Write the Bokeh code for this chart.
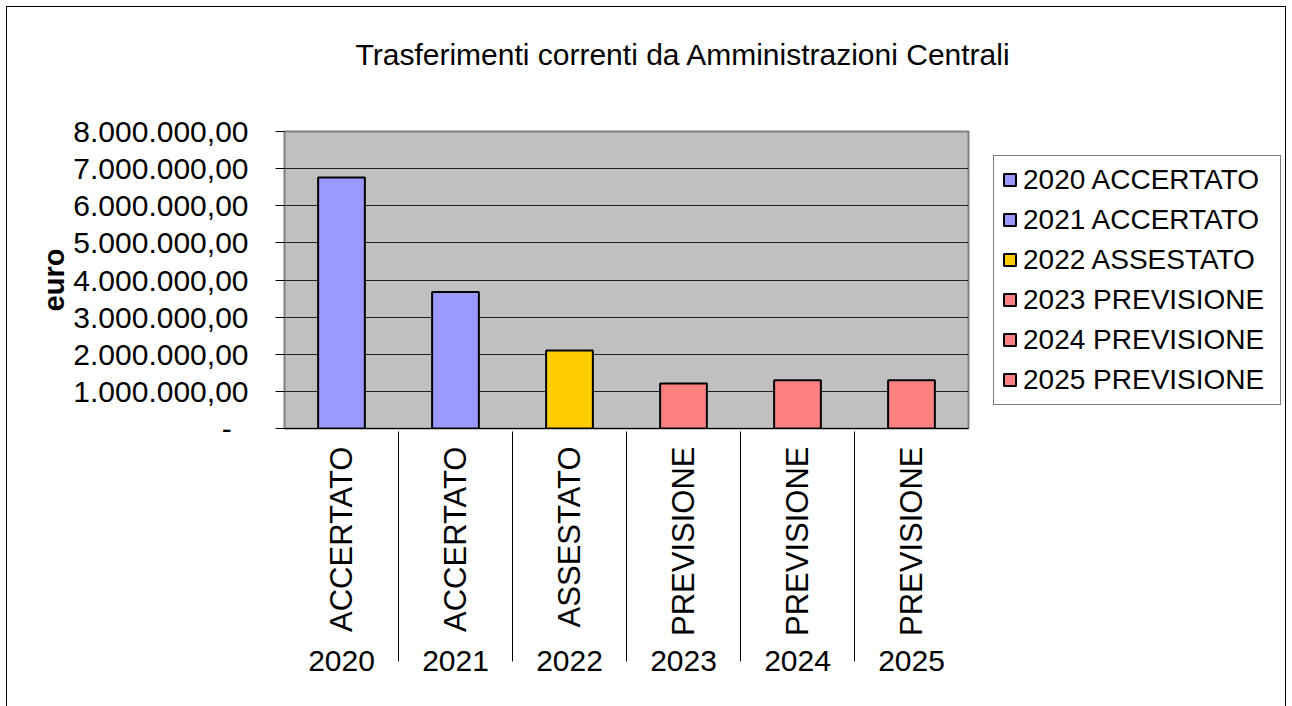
import math
from bokeh.plotting import figure
from bokeh.models import FactorRange, Range1d, FixedTicker, Legend, LegendItem, ColumnDataSource
from bokeh.embed import file_html
from bokeh.resources import INLINE

# ---- data ----
years = ["2020", "2021", "2022", "2023", "2024", "2025"]
stati = ["ACCERTATO", "ACCERTATO", "ASSESTATO", "PREVISIONE", "PREVISIONE", "PREVISIONE"]
valori = [6760000, 3680000, 2100000, 1210000, 1300000, 1300000]
colori = ["#9999FF", "#9999FF", "#FFCC00", "#FF8080", "#FF8080", "#FF8080"]
y_ticks = [0, 1000000, 2000000, 3000000, 4000000, 5000000, 6000000, 7000000, 8000000]
y_tick_labels = ["-\u00a0\u00a0", "1.000.000,00", "2.000.000,00", "3.000.000,00", "4.000.000,00",
                 "5.000.000,00", "6.000.000,00", "7.000.000,00", "8.000.000,00"]
titolo = "Trasferimenti correnti da Amministrazioni Centrali"
y_label = "euro"

FONT = "Liberation Sans"

factors = list(zip(years, stati))
labels = [f"{y} {s}" for y, s in zip(years, stati)]
source = ColumnDataSource(dict(x=factors, top=valori, color=colori, label=labels))

p = figure(
    width=1280, height=698, frame_width=684, frame_height=297,
    x_range=FactorRange(*factors, group_padding=0, factor_padding=0, subgroup_padding=0, range_padding=0),
    y_range=Range1d(0, 8000000),
    output_backend="svg", toolbar_location=None,
    min_border_left=277, min_border_top=123, min_border_right=319, min_border_bottom=278,
    title=titolo + "\n",
)
p.styles = {"margin-left": "6px", "margin-top": "6px", "max-width": "1280px", "overflow": "hidden",
            "border-left": "1px solid black", "border-top": "1px solid black",
            "border-right": "1px solid black"}

p.background_fill_color = "#C0C0C0"
p.border_fill_color = "white"
p.outline_line_color = "#808080"
p.outline_line_width = 2

# title
p.title.text_font = FONT
p.title.text_font_size = "30px"
p.title.text_font_style = "normal"
p.title.text_color = "black"
p.title.align = "left"
p.title.offset = 71
p.title.standoff = 56

r = p.vbar(x="x", top="top", width=0.41, fill_color="color", line_color="black",
           line_width=2, source=source)

# grid
p.xgrid.grid_line_color = None
p.ygrid.grid_line_color = "#202020"
p.ygrid.grid_line_width = 1

# y axis
ya = p.yaxis[0]
ya.ticker = FixedTicker(ticks=y_ticks)
ya.major_label_overrides = {t: l for t, l in zip(y_ticks, y_tick_labels)}
ya.major_label_text_font = FONT
ya.major_label_text_font_size = "30px"
ya.major_label_text_color = "black"
ya.major_tick_out = 9
ya.major_tick_in = 0
ya.major_tick_line_color = "black"
ya.minor_tick_line_color = None
ya.axis_line_color = None
ya.major_label_standoff = 27
ya.axis_label = y_label
ya.axis_label_text_font = FONT
ya.axis_label_text_font_size = "29px"
ya.axis_label_text_font_style = "bold"
ya.axis_label_text_color = "black"
ya.axis_label_standoff = 0

# x axis
xa = p.xaxis[0]
xa.major_label_orientation = math.pi / 2
xa.major_label_text_font = FONT
xa.major_label_text_font_size = "31px"
xa.major_label_text_color = "black"
xa.major_label_standoff = 12
xa.group_text_font = FONT
xa.group_text_font_size = "30px"
xa.group_text_font_style = "normal"
xa.group_text_color = "black"
xa.group_label_orientation = "horizontal"
xa.separator_line_color = "black"
xa.separator_line_width = 1
xa.major_tick_line_color = None
xa.minor_tick_line_color = None
xa.axis_line_color = "black"
xa.axis_line_width = 1

# legend
items = [LegendItem(label=labels[i], renderers=[r], index=i) for i in range(len(labels))]
legend = Legend(items=items, location="center_left", margin=25, padding=8, spacing=8,
                label_height=32, label_width=249, glyph_height=15, glyph_width=15,
                label_standoff=6,
                label_text_font=FONT, label_text_font_size="28px", label_text_color="black",
                border_line_color="black", border_line_width=1, background_fill_color="white")
p.add_layout(legend, "right")

open("out.html", "w").write(file_html(p, INLINE))
